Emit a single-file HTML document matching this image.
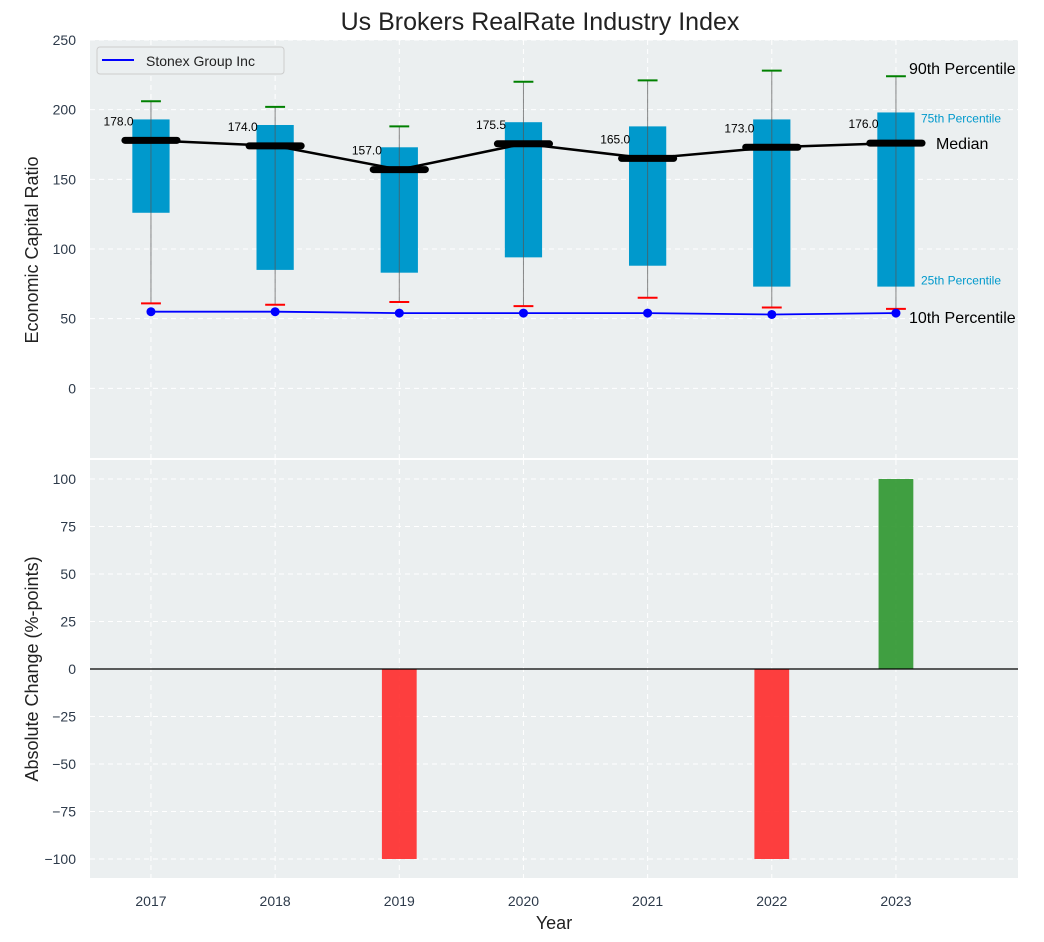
<!DOCTYPE html>
<html><head><meta charset="utf-8"><style>
body{margin:0;background:#fff;}
svg{display:block;font-family:"Liberation Sans","DejaVu Sans",sans-serif;}
</style></head><body>
<svg id="c" width="1044" height="942"></svg>
<script>
const years=[2017,2018,2019,2020,2021,2022,2023];
const p10=[61,60,62,59,65,58,57];
const p25=[126,85,83,94,88,73,73];
const p50=[178,174,157,175.5,165,173,176];
const p75=[193,189,173,191,188,193,198];
const p90=[206,202,188,220,221,228,224];
const company=[55,55,54,54,54,53,54];
const change=[0,0,-100,0,0,-100,100];
const topTicks=[0,50,100,150,200,250];
const botTicks=[-100,-75,-50,-25,0,25,50,75,100];

const NS="http://www.w3.org/2000/svg";
const svg=document.getElementById('c');
function el(t,a,p){const e=document.createElementNS(NS,t);for(const k in a)e.setAttribute(k,a[k]);(p||svg).appendChild(e);return e;}
function tx(x,y,s,a,p){const e=el('text',Object.assign({x:x,y:y},a),p);e.textContent=s;return e;}
const L=90,R=1018,XMIN=2016.509,XMAX=2023.983;
const X=v=>L+(v-XMIN)/(XMAX-XMIN)*(R-L);
const T0=40,T1=458,Y=v=>T0+(250-v)/(250+50)*(T1-T0);
const B0=460,B1=878,YB=v=>B0+(110-v)/220*(B1-B0);

tx(540,30,'Us Brokers RealRate Industry Index',{'text-anchor':'middle','font-size':25,fill:'#222'});

let g=el('g',{});
el('rect',{x:L,y:T0,width:R-L,height:T1-T0,fill:'#ebeff0'},g);
topTicks.forEach(t=>{el('line',{x1:L,x2:R,y1:Y(t),y2:Y(t),stroke:'#fff','stroke-dasharray':'5,4','stroke-width':1},g);
 const e=tx(76,Y(t)+5,t,{'text-anchor':'end','font-size':14,fill:'#2d3a4a'},g);});
years.forEach(y=>el('line',{x1:X(y),x2:X(y),y1:T0,y2:T1,stroke:'#fff','stroke-dasharray':'5,4'},g));
years.forEach((y,i)=>{
 const w=X(y+0.15)-X(y-0.15);
 const b=el('rect',{x:X(y-0.15),y:Y(p75[i]),width:w,height:Y(p25[i])-Y(p75[i]),fill:'#0099cc'},g);
 
 el('line',{x1:X(y),x2:X(y),y1:Y(p90[i]),y2:Y(p10[i]),stroke:'#555','stroke-opacity':0.7,'stroke-width':1},g);
 el('line',{x1:X(y-0.08),x2:X(y+0.08),y1:Y(p90[i]),y2:Y(p90[i]),stroke:'green','stroke-width':2},g);
 el('line',{x1:X(y-0.08),x2:X(y+0.08),y1:Y(p10[i]),y2:Y(p10[i]),stroke:'red','stroke-width':2},g);
 const m=el('line',{x1:X(y-0.21),x2:X(y+0.21),y1:Y(p50[i]),y2:Y(p50[i]),stroke:'#000','stroke-width':7,'stroke-linecap':'round'},g);
 
 tx(X(y-0.14),Y(p50[i])-15,p50[i].toFixed(1),{'text-anchor':'end','font-size':12,fill:'#000'},g);
});
el('polyline',{points:years.map((y,i)=>X(y)+','+Y(p50[i])).join(' '),fill:'none',stroke:'#000','stroke-width':2.5},g);
el('polyline',{points:years.map((y,i)=>X(y)+','+Y(company[i])).join(' '),fill:'none',stroke:'blue','stroke-width':1.8},g);
years.forEach((y,i)=>el('circle',{cx:X(y),cy:Y(company[i]),r:4.5,fill:'blue'},g));
const li=years.length-1;
tx(X(2023)+13,Y(p90[li])-2,'90th Percentile',{'font-size':16,fill:'#000'},g);
tx(X(2023)+25,Y(p75[li])+10,'75th Percentile',{'font-size':12,fill:'#0099cc'},g);
tx(X(2023)+40,Y(p50[li])+6,'Median',{'font-size':16,fill:'#000'},g);
tx(X(2023)+25,Y(p25[li])-2,'25th Percentile',{'font-size':12,fill:'#0099cc'},g);
tx(X(2023)+13,Y(company[li])+10,'10th Percentile',{'font-size':16,fill:'#000'},g);
let lg=el('g',{},g);
el('rect',{x:97,y:47,width:187,height:27,rx:3,fill:'#ebeff0',stroke:'#ccc'},lg);
el('line',{x1:102,x2:134,y1:60,y2:60,stroke:'blue','stroke-width':2},lg);
tx(146,66,'Stonex Group Inc',{'font-size':14,fill:'#222'},lg);
const yt=tx(38,250,'Economic Capital Ratio',{'text-anchor':'middle','font-size':18,fill:'#222',transform:'rotate(-90 38 250)'});


let h=el('g',{});
el('rect',{x:L,y:B0,width:R-L,height:B1-B0,fill:'#ebeff0'},h);
botTicks.forEach(t=>{el('line',{x1:L,x2:R,y1:YB(t),y2:YB(t),stroke:'#fff','stroke-dasharray':'5,4'},h);
 const e=tx(76,YB(t)+5,t<0?'\u2212'+(-t):t,{'text-anchor':'end','font-size':14,fill:'#2d3a4a'},h);});
years.forEach((y,i)=>{el('line',{x1:X(y),x2:X(y),y1:B0,y2:B1,stroke:'#fff','stroke-dasharray':'5,4'},h);
 const e=tx(X(y),906,y,{'text-anchor':'middle','font-size':14,fill:'#2d3a4a'});});
years.forEach((y,i)=>{if(change[i]===0)return;
 const y1=YB(Math.max(0,change[i])),y2=YB(Math.min(0,change[i]));
 const b=el('rect',{x:X(y-0.14),y:y1,width:X(y+0.14)-X(y-0.14),height:y2-y1,fill:change[i]>0?'#2e962e':'#ff2a2a','fill-opacity':0.9},h);
 });
el('line',{x1:L,x2:R,y1:YB(0),y2:YB(0),stroke:'#000','stroke-width':1.2},h);
const yb=tx(38,669,'Absolute Change (%-points)',{'text-anchor':'middle','font-size':18,fill:'#222',transform:'rotate(-90 38 669)'});

const xt=tx(554,929,'Year',{'text-anchor':'middle','font-size':18,fill:'#222'});

</script>
</body></html>
